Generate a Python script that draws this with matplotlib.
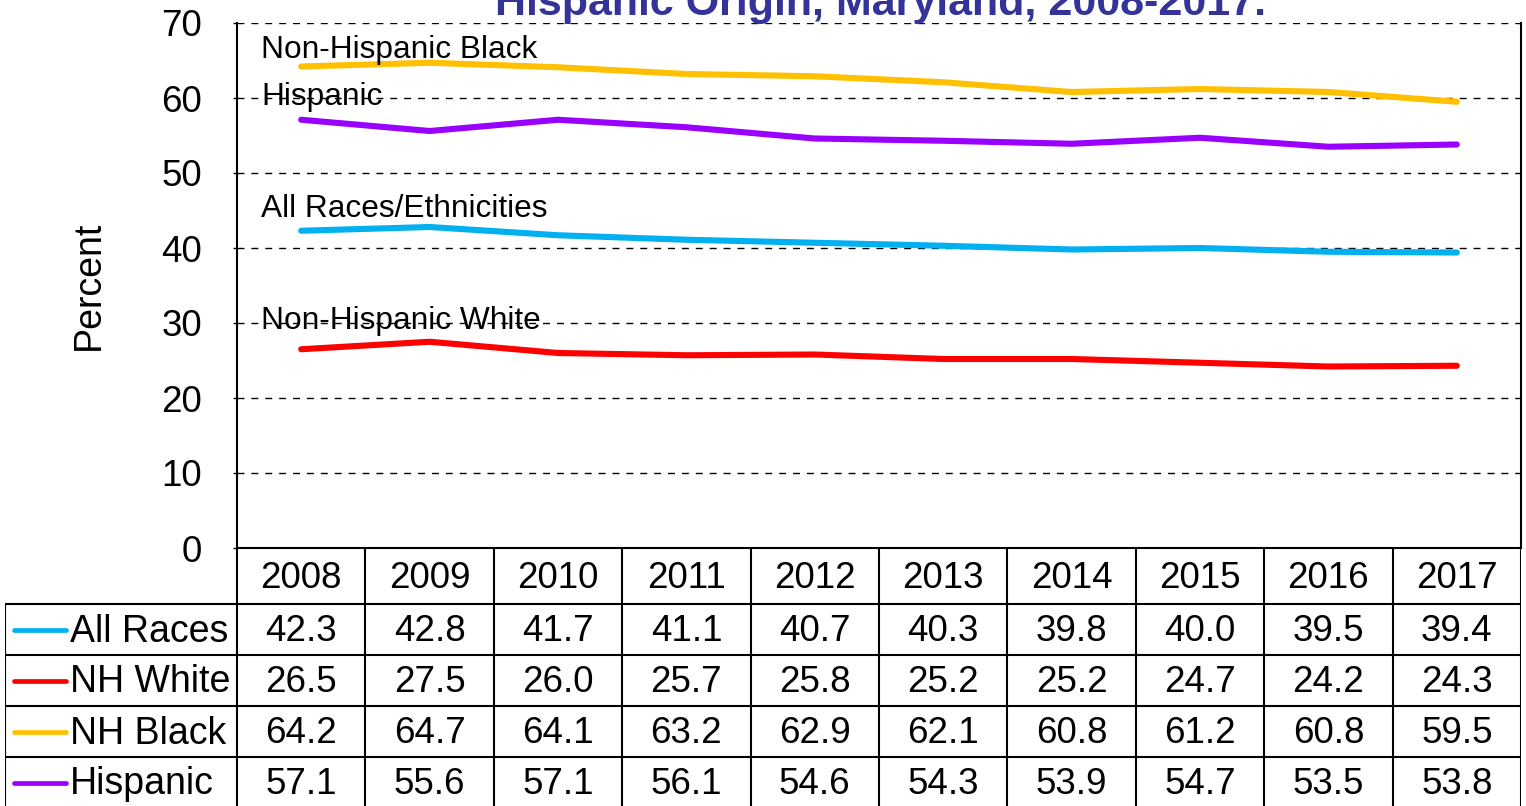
import numpy as np
import matplotlib.pyplot as plt
from matplotlib.lines import Line2D

plt.rcParams['font.family'] = ['Liberation Sans', 'DejaVu Sans']

# data
years = ['2008', '2009', '2010', '2011', '2012', '2013', '2014', '2015', '2016', '2017']
all_races = [42.3, 42.8, 41.7, 41.1, 40.7, 40.3, 39.8, 40.0, 39.5, 39.4]
nh_white = [26.5, 27.5, 26.0, 25.7, 25.8, 25.2, 25.2, 24.7, 24.2, 24.3]
nh_black = [64.2, 64.7, 64.1, 63.2, 62.9, 62.1, 60.8, 61.2, 60.8, 59.5]
hispanic = [57.1, 55.6, 57.1, 56.1, 54.6, 54.3, 53.9, 54.7, 53.5, 53.8]

row_names = ['All Races', 'NH White', 'NH Black', 'Hispanic']
row_values = [all_races, nh_white, nh_black, hispanic]
row_colors = ['#00B0F0', '#FF0000', '#FFC000', '#9A00FF']

# line labels (text, y value in the chart)
line_labels = ['Non-Hispanic Black', 'Hispanic', 'All Races/Ethnicities', 'Non-Hispanic White']
line_label_y = [66.4, 60.1, 45.2, 30.3]

title = 'Hispanic Origin, Maryland, 2008-2017.'

W, H = 1526, 806
fig = plt.figure(figsize=(W / 100, H / 100), dpi=100)

# plot area
x0, x1 = 237, 1521
y_top, y_bot = 23, 548
ax = fig.add_axes([x0 / W, 1 - y_bot / H, (x1 - x0) / W, (y_bot - y_top) / H])
x = np.arange(len(years))
for vals, col in zip([nh_black, hispanic, all_races, nh_white], ['#FFC000', '#9A00FF', '#00B0F0', '#FF0000']):
    ax.plot(x, vals, color=col, lw=4.4, solid_capstyle='round', zorder=3)

ax.set_xlim(-0.5, len(years) - 0.5)
ax.set_ylim(0, 70)
ax.set_yticks(np.arange(0, 71, 10))
ax.set_xticks([])
ax.grid(axis='y', color='black', linestyle=(0, (5, 5)), lw=1.0)
ax.spines['top'].set_visible(False)
for s in ['left', 'right', 'bottom']:
    ax.spines[s].set_linewidth(1.5)
ax.tick_params(axis='y', labelsize=26.5, length=3, width=1, pad=22)
ax.set_ylabel('Percent', fontsize=27, labelpad=39)

for txt, yv in zip(line_labels, line_label_y):
    ax.text(-0.31, yv, txt, fontsize=22.8, ha='left', va='center', zorder=4)

fig.text(881 / W, 1 - 15 / H, title, fontsize=31, fontweight='bold', color='#333399',
         ha='center', va='baseline')

# data table below the chart
col_w = (x1 - x0) / len(years)
lab_w = (x0 - 5) / col_w
tb = fig.add_axes([5 / W, 0, (x1 - 5) / W, (H - y_bot) / H])
tb.set_xlim(-0.5 - lab_w, len(years) - 0.5)
header_h, row_h = 56, 51
tb.set_ylim(H - y_bot, 0)
tb.axis('off')

for i, yr in enumerate(years):
    tb.text(i, header_h / 2 + 2, yr, fontsize=26.5, ha='center', va='center')
for r, (name, vals, col) in enumerate(zip(row_names, row_values, row_colors)):
    yc = header_h + row_h * r + row_h / 2 + 2
    for i, v in enumerate(vals):
        tb.text(i, yc, f'{v:.1f}', fontsize=26.5, ha='center', va='center')
    lx0 = -0.5 - lab_w + 9 / col_w
    lx1 = -0.5 - lab_w + 61 / col_w
    tb.add_line(Line2D([lx0, lx1], [yc - 2, yc - 2], color=col, lw=3.4, solid_capstyle='round'))
    tb.text(-0.5 - lab_w + 65 / col_w, yc, name, fontsize=27, ha='left', va='center')

# table grid lines
for i in range(len(years) + 1):
    tb.add_line(Line2D([i - 0.5, i - 0.5], [0, H - y_bot], color='black', lw=1.5))
tb.add_line(Line2D([-0.5 - lab_w, -0.5 - lab_w], [header_h, H - y_bot], color='black', lw=1.5))
for r in range(len(row_names)):
    yl = header_h + row_h * r
    tb.add_line(Line2D([-0.5 - lab_w, len(years) - 0.5], [yl, yl], color='black', lw=1.5))

fig.savefig('out.png', dpi=100)
